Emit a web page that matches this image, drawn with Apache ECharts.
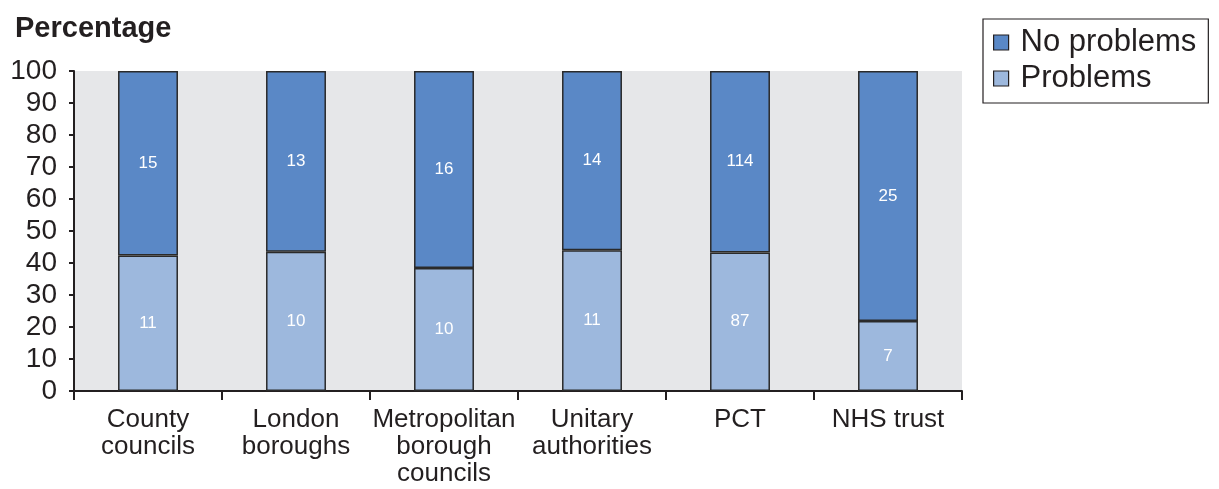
<!DOCTYPE html>
<html>
<head>
<meta charset="utf-8">
<script src="https://cdn.jsdelivr.net/npm/echarts@6/dist/echarts.min.js"></script>
<style>html,body{margin:0;padding:0;background:#fff}#c{width:1219px;height:489px}</style>
</head>
<body>
<div id="c"></div>
<script>
const categories = ['County\ncouncils', 'London\nboroughs', 'Metropolitan\nborough\ncouncils', 'Unitary\nauthorities', 'PCT', 'NHS trust'];
const problemsCounts = [11, 10, 10, 11, 87, 7];
const noProblemsCounts = [15, 13, 16, 14, 114, 25];
const yTicks = [0, 10, 20, 30, 40, 50, 60, 70, 80, 90, 100];

const FONT = '"Liberation Sans", Arial, Helvetica, sans-serif';
const totals = problemsCounts.map((v, i) => v + noProblemsCounts[i]);
const toData = arr => arr.map((v, i) => ({ value: v / totals[i] * 100, count: v }));

const chart = echarts.init(document.getElementById('c'));
const labelCfg = {
  show: true, position: 'inside', color: '#fff', fontSize: 17, fontFamily: FONT,
  formatter: p => p.data.count
};
chart.setOption({
  animation: false,
  textStyle: { fontFamily: FONT },
  title: {
    text: 'Percentage', left: 10, top: 9,
    textStyle: { fontSize: 29, fontWeight: 'bold', color: '#231f20', fontFamily: FONT }
  },
  legend: {
    orient: 'vertical', left: 983, top: 19,
    data: ['No problems', 'Problems'],
    icon: 'rect',
    borderColor: '#231f20', borderWidth: 1.2,
    padding: [8, 12, 9, 10], itemGap: 5,
    itemWidth: 15, itemHeight: 15, itemStyle: { borderColor: '#231f20', borderWidth: 1.2 },
    textStyle: { fontSize: 31, color: '#231f20', fontFamily: FONT, padding: [0, 0, 0, 7] }
  },
  grid: { left: 74, right: 257, top: 71, bottom: 98, show: true, backgroundColor: '#e6e7e9', borderWidth: 0 },
  xAxis: {
    type: 'category', data: categories,
    axisLine: { lineStyle: { color: '#231f20', width: 2 } },
    axisTick: { show: true, length: 9, lineStyle: { color: '#231f20', width: 2 } },
    axisLabel: { fontSize: 26, lineHeight: 27, color: '#231f20', margin: 15, interval: 0, fontFamily: FONT }
  },
  yAxis: {
    type: 'value', min: yTicks[0], max: yTicks[yTicks.length - 1], interval: 10,
    axisLine: { show: true, lineStyle: { color: '#231f20', width: 2 } },
    axisTick: { show: true, length: 5, lineStyle: { color: '#231f20', width: 2 } },
    splitLine: { show: false },
    axisLabel: { fontSize: 28, color: '#231f20', margin: 17, fontFamily: FONT }
  },
  series: [
    {
      name: 'Problems', type: 'bar', stack: 'a', barWidth: '40.5%',
      data: toData(problemsCounts),
      itemStyle: { color: '#9db8dd', borderColor: '#2a2a2a', borderWidth: 1.5 },
      label: labelCfg
    },
    {
      name: 'No problems', type: 'bar', stack: 'a', barWidth: '40.5%',
      data: toData(noProblemsCounts),
      itemStyle: { color: '#5a88c6', borderColor: '#2a2a2a', borderWidth: 1.5 },
      label: labelCfg
    }
  ]
});
</script>
</body>
</html>
